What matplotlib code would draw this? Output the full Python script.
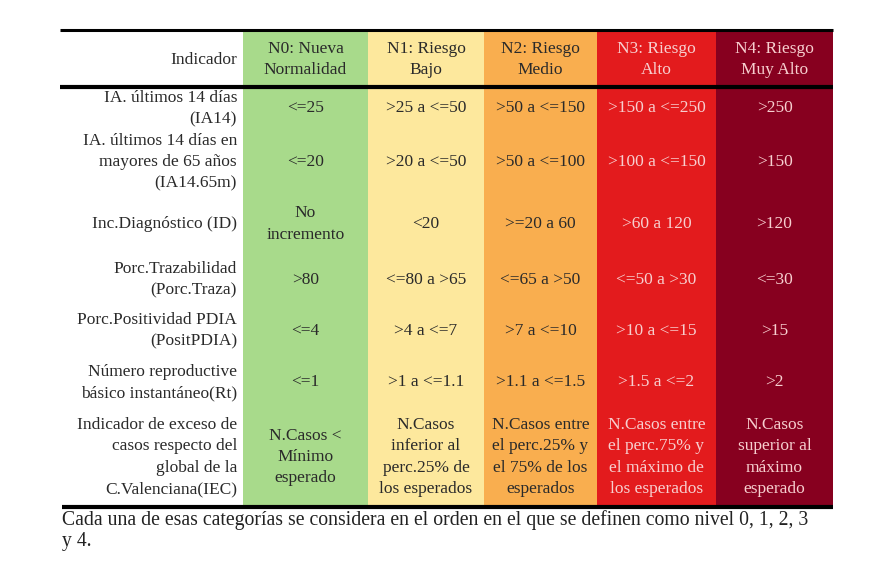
import matplotlib.pyplot as plt
from matplotlib.patches import Rectangle

# datos de la tabla
niveles = ['N0: Nueva\nNormalidad', 'N1: Riesgo\nBajo', 'N2: Riesgo\nMedio',
           'N3: Riesgo\nAlto', 'N4: Riesgo\nMuy Alto']
colores = ['#a8da8b', '#fde89d', '#f9ae4f', '#e31b1d', '#87001f']
color_texto = ['#2a2a2a', '#2a2a2a', '#2a2a2a', '#f7cfcf', '#f7cfcf']

indicadores = [
    'IA. últimos 14 días\n(IA14)',
    'IA. últimos 14 días en\nmayores de 65 años\n(IA14.65m)',
    'Inc.Diagnóstico (ID)',
    'Porc.Trazabilidad\n(Porc.Traza)',
    'Porc.Positividad PDIA\n(PositPDIA)',
    'Número reproductive\nbásico instantáneo(Rt)',
    'Indicador de exceso de\ncasos respecto del\nglobal de la\nC.Valenciana(IEC)',
]

n0 = ['<=25', '<=20', 'No\nincremento', '>80', '<=4', '<=1',
      'N.Casos <\nMínimo\nesperado']
n1 = ['>25 a <=50', '>20 a <=50', '<20', '<=80 a >65', '>4 a <=7',
      '>1 a <=1.1', 'N.Casos\ninferior al\nperc.25% de\nlos esperados']
n2 = ['>50 a <=150', '>50 a <=100', '>=20 a 60', '<=65 a >50', '>7 a <=10',
      '>1.1 a <=1.5', 'N.Casos entre\nel perc.25% y\nel 75% de los\nesperados']
n3 = ['>150 a <=250', '>100 a <=150', '>60 a 120', '<=50 a >30', '>10 a <=15',
      '>1.5 a <=2', 'N.Casos entre\nel perc.75% y\nel máximo de\nlos esperados']
n4 = ['>250', '>150', '>120', '<=30', '>15', '>2',
      'N.Casos\nsuperior al\nmáximo\nesperado']
valores = [n0, n1, n2, n3, n4]

nota = ('Cada una de esas categorías se considera en el orden en el que se '
        'definen como nivel 0, 1, 2, 3\ny 4.')

# geometría (pixeles)
bordes_col = [60, 243, 368, 484, 597, 716, 833]
bordes_fila = [30, 87, 130, 194, 254, 305, 357, 408, 506]

plt.rcParams['font.family'] = ['Liberation Serif', 'DejaVu Serif']
fig = plt.figure(figsize=(8.89, 5.63), dpi=100)
ax = fig.add_axes([0, 0, 1, 1])
ax.set_xlim(0, 889)
ax.set_ylim(563, 0)
ax.axis('off')

fs = 12.5
ls = 1.44
top, bottom = bordes_fila[0], bordes_fila[-1]
for j, (nombre, col, ct) in enumerate(zip(niveles, colores, color_texto)):
    x0, x1 = bordes_col[j + 1], bordes_col[j + 2]
    ax.add_patch(Rectangle((x0, top), x1 - x0, bottom - top, color=col, lw=0))
    xc = (x0 + x1) / 2
    ax.text(xc, (bordes_fila[0] + bordes_fila[1]) / 2 + 1, nombre, ha='center',
            va='center', fontsize=fs, color=ct, linespacing=ls)
    for i, v in enumerate(valores[j]):
        yc = (bordes_fila[i + 1] + bordes_fila[i + 2]) / 2
        ax.text(xc, yc, v, ha='center', va='center', fontsize=fs, color=ct,
                linespacing=ls)

xl = bordes_col[1] - 6
ax.text(xl, (bordes_fila[0] + bordes_fila[1]) / 2 + 1, 'Indicador', ha='right',
        va='center', fontsize=fs, color='#2a2a2a')
for i, ind in enumerate(indicadores):
    yc = (bordes_fila[i + 1] + bordes_fila[i + 2]) / 2
    ax.text(xl, yc, ind, ha='right', va='center', fontsize=fs, color='#2a2a2a',
            linespacing=ls)

ax.plot([60, 833], [top, top], color='black', lw=2.2, solid_capstyle='butt')
ax.plot([60, 833], [bordes_fila[1], bordes_fila[1]], color='black', lw=3,
        solid_capstyle='butt')
ax.plot([62, 833], [bottom + 1, bottom + 1], color='black', lw=3,
        solid_capstyle='butt')

ax.text(62, 510, nota, ha='left', va='top', fontsize=14.2, color='#222222',
        linespacing=1.15)

fig.savefig('out.png', dpi=100)
